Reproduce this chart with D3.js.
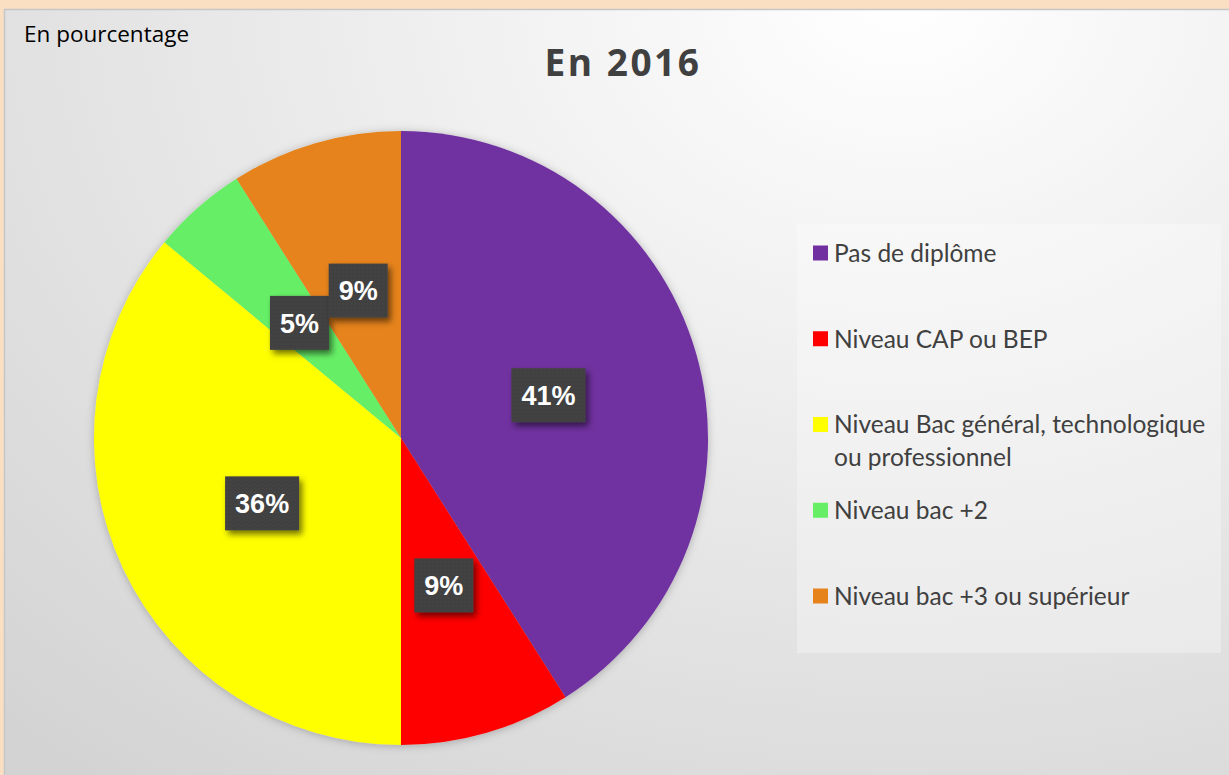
<!DOCTYPE html>
<html>
<head>
<meta charset="utf-8">
<script src="https://cdn.jsdelivr.net/npm/d3@7"></script>
<style>
  html, body { margin: 0; padding: 0; background: #fadfc2; }
  svg { display: block; }
</style>
</head>
<body>
<script>
// ---- data ----
const categories = [
  "Pas de diplôme",
  "Niveau CAP ou BEP",
  "Niveau Bac général, technologique ou professionnel",
  "Niveau bac +2",
  "Niveau bac +3 ou supérieur"
];
const legendLines = [
  ["Pas de diplôme"],
  ["Niveau CAP ou BEP"],
  ["Niveau Bac général, technologique", "ou professionnel"],
  ["Niveau bac +2"],
  ["Niveau bac +3 ou supérieur"]
];
const values = [41, 9, 36, 5, 9];
const colors = ["#7030a0", "#ff0000", "#ffff00", "#66ef66", "#e6831a"];
const title = "En 2016";
const subtitle = "En pourcentage";

// ---- layout ----
const W = 1229, H = 775;
const svg = d3.select("body").append("svg").attr("width", W).attr("height", H);
const defs = svg.append("defs");

const bg = defs.append("radialGradient").attr("id", "bg")
  .attr("gradientUnits", "userSpaceOnUse")
  .attr("cx", 900).attr("cy", 0).attr("r", 1050)
  .attr("gradientTransform", "translate(900,0) scale(1.25,0.95) translate(-900,0)");
bg.append("stop").attr("offset", 0).attr("stop-color", "#ffffff");
bg.append("stop").attr("offset", 1).attr("stop-color", "#d3d3d3");

const sh = defs.append("filter").attr("id", "pieShadow")
  .attr("x", "-10%").attr("y", "-10%").attr("width", "120%").attr("height", "120%");
sh.append("feDropShadow").attr("dx", 0).attr("dy", 1).attr("stdDeviation", 4)
  .attr("flood-color", "#000").attr("flood-opacity", 0.25);

const bsh = defs.append("filter").attr("id", "boxShadow")
  .attr("x", "-30%").attr("y", "-30%").attr("width", "160%").attr("height", "160%");
bsh.append("feDropShadow").attr("dx", 3).attr("dy", 4).attr("stdDeviation", 3)
  .attr("flood-color", "#000").attr("flood-opacity", 0.55);

const pat = defs.append("pattern").attr("id", "dots")
  .attr("patternUnits", "userSpaceOnUse").attr("width", 4).attr("height", 4);
pat.append("rect").attr("width", 4).attr("height", 4).attr("fill", "#3f3f3f");
pat.append("circle").attr("cx", 1).attr("cy", 1).attr("r", 0.8).attr("fill", "#4b4b4b");
pat.append("circle").attr("cx", 3).attr("cy", 3).attr("r", 0.8).attr("fill", "#474747");

// panel
svg.append("rect").attr("x", 0).attr("y", 0).attr("width", W).attr("height", H).attr("fill", "#fadfc2");
svg.append("rect").attr("x", 4.5).attr("y", 9.5).attr("width", W).attr("height", H)
  .attr("fill", "url(#bg)").attr("stroke", "#c6c6c6").attr("stroke-width", 1.5);

// subtitle and title
svg.append("text").attr("x", 24).attr("y", 42)
  .attr("font-family", "Open Sans, sans-serif").attr("font-size", 22.5)
  .attr("fill", "#000").text(subtitle);
svg.append("text").attr("x", 623).attr("y", 76).attr("text-anchor", "middle")
  .attr("font-family", "Open Sans, sans-serif").attr("font-weight", "bold")
  .attr("font-size", 37).attr("letter-spacing", 2.5).attr("fill", "#404040").text(title);

// pie
const cx = 401, cy = 438, R = 307;
const pie = d3.pie().sort(null).value(d => d)(values);
const arc = d3.arc().innerRadius(0).outerRadius(R);
const g = svg.append("g").attr("transform", `translate(${cx},${cy})`);
g.append("g").attr("filter", "url(#pieShadow)")
  .selectAll("path").data(pie).join("path")
  .attr("d", arc).attr("fill", (d, i) => colors[i]);

// labels
const lab = g.selectAll("g.lab").data(pie).join("g").attr("class", "lab")
  .attr("transform", d => `translate(${arc.centroid(d)})`);
lab.each(function(d) {
  const sel = d3.select(this);
  const t = sel.append("text").attr("text-anchor", "middle").attr("dy", "0.36em")
    .attr("font-family", "Liberation Sans, Arial, sans-serif").attr("font-weight", "bold")
    .attr("font-size", 27).attr("fill", "#fff").text(d.data + "%");
  const w = t.node().getComputedTextLength() + 20;
  const h = 54;
  sel.insert("rect", "text").attr("x", -w / 2).attr("y", -h / 2)
    .attr("width", w).attr("height", h).attr("fill", "url(#dots)")
    .attr("filter", "url(#boxShadow)");
});

// legend
const lx = 797, ly = 224;
svg.append("rect").attr("x", lx).attr("y", ly).attr("width", 424).attr("height", 429)
  .attr("fill", "#ffffff").attr("fill-opacity", 0.3);
const y0 = 253, step = 85.75;
const leg = svg.append("g").selectAll("g").data(categories).join("g")
  .attr("transform", (d, i) => `translate(813,${y0 + i * step})`);
leg.append("rect").attr("x", 0).attr("y", -7.5).attr("width", 15).attr("height", 15)
  .attr("fill", (d, i) => colors[i]);
leg.append("text").attr("x", 21).attr("y", 0)
  .attr("font-family", "Lato, sans-serif").attr("font-size", 24.5).attr("fill", "#404040")
  .selectAll("tspan").data((d, i) => legendLines[i]).join("tspan")
  .attr("x", 21).attr("dy", (d, j) => j === 0 ? "0.36em" : "1.35em").text(d => d);
</script>
</body>
</html>
